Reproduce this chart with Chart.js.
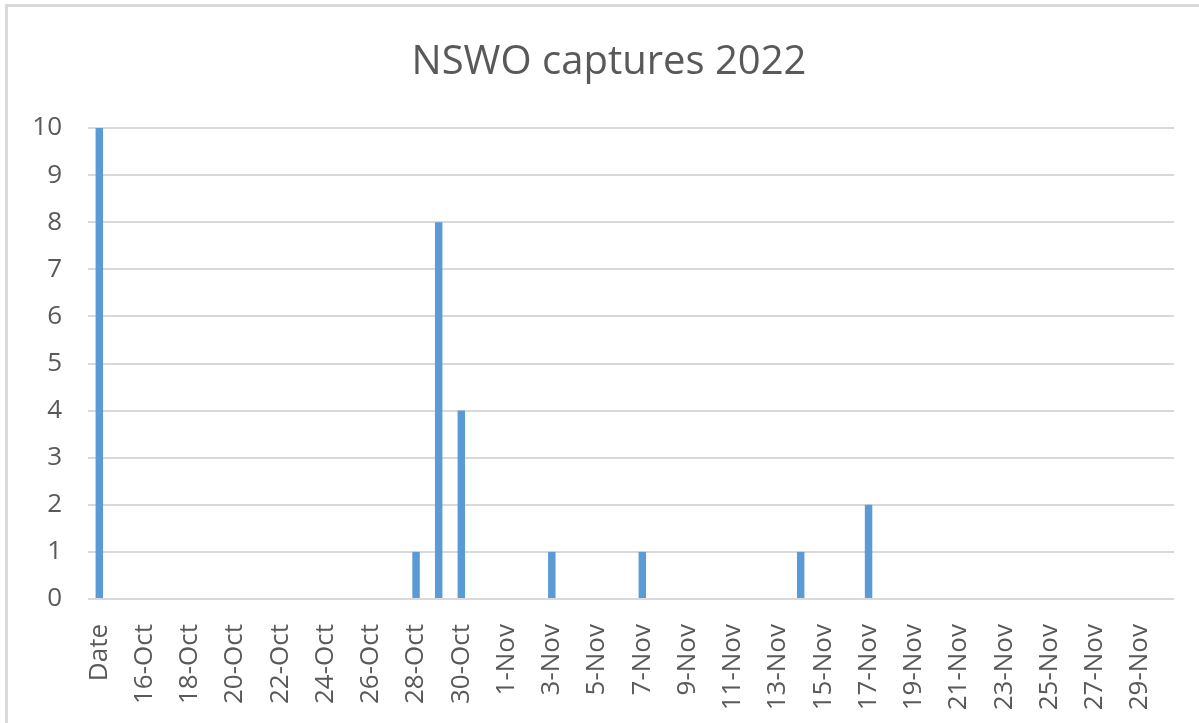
<!DOCTYPE html>
<html>
<head>
<meta charset="utf-8">
<title>NSWO captures 2022</title>
<script src="https://cdn.jsdelivr.net/npm/chart.js@4/dist/chart.umd.min.js"></script>
<style>
  body { margin: 0; background: #fff; }
  #wrap { position: relative; width: 1199px; height: 723px; }
  #frame { position: absolute; left: 5px; top: 4px; right: 0; bottom: 0;
           border-top: 3px solid #d9d9d9; border-left: 3px solid #d9d9d9; }
  #chart { position: absolute; left: 0; top: 0; }
</style>
</head>
<body>
<div id="wrap">
  <div id="frame"></div>
  <canvas id="chart" width="1199" height="723"></canvas>
</div>
<script>
var dates = ["Date", "15-Oct", "16-Oct", "17-Oct", "18-Oct", "19-Oct", "20-Oct", "21-Oct", "22-Oct", "23-Oct",
  "24-Oct", "25-Oct", "26-Oct", "27-Oct", "28-Oct", "29-Oct", "30-Oct", "31-Oct",
  "1-Nov", "2-Nov", "3-Nov", "4-Nov", "5-Nov", "6-Nov", "7-Nov", "8-Nov", "9-Nov", "10-Nov",
  "11-Nov", "12-Nov", "13-Nov", "14-Nov", "15-Nov", "16-Nov", "17-Nov", "18-Nov", "19-Nov", "20-Nov",
  "21-Nov", "22-Nov", "23-Nov", "24-Nov", "25-Nov", "26-Nov", "27-Nov", "28-Nov", "29-Nov", "30-Nov"]

var captures = [10, 0, 0, 0, 0, 0, 0, 0, 0, 0,
  0, 0, 0, 0, 1, 8, 4, 0,
  0, 0, 1, 0, 0, 0, 1, 0, 0, 0,
  0, 0, 0, 1, 0, 0, 2, 0, 0, 0,
  0, 0, 0, 0, 0, 0, 0, 0, 0, 0]

var gray = "#595959"
var font = "'Open Sans', 'DejaVu Sans', sans-serif"

new Chart(document.getElementById("chart"), {
  type: 'bar',
  data: {
    labels: dates,
    datasets: [{
      label: "NSWO captures",
      data: captures,
      backgroundColor: "#5b9bd5",
      borderWidth: 0,
      categoryPercentage: 1,
      barPercentage: 0.33
    }]
  },
  options: {
    responsive: false,
    animation: false,
    layout: { padding: { top: 0, left: 19, right: 0, bottom: 0 } },
    plugins: {
      legend: { display: false },
      tooltip: { enabled: false },
      title: {
        display: true,
        text: 'NSWO captures 2022',
        color: gray,
        font: { family: font, size: 40, weight: 'normal', lineHeight: 1.2 },
        padding: { top: 39, bottom: 41 }
      }
    },
    scales: {
      x: {
        grid: { display: false },
        border: { display: false },
        ticks: {
          color: gray,
          font: { family: font, size: 26 },
          autoSkip: false,
          minRotation: 90,
          maxRotation: 90,
          padding: 17,
          callback: function (v, i) { return i % 2 === 0 ? dates[i] : '' }
        },
        afterFit: function (s) {
          s.height = 124
          s.paddingLeft = 0
          s.paddingRight = 25
        }
      },
      y: {
        min: 0,
        max: 10,
        grid: { color: "#d9d9d9", lineWidth: 2, drawTicks: false },
        border: { display: false },
        ticks: {
          stepSize: 1,
          color: gray,
          font: { family: font, size: 26 },
          padding: 26
        },
        afterFit: function (s) { s.width = 69 }
      }
    }
  }
})
</script>
</body>
</html>
